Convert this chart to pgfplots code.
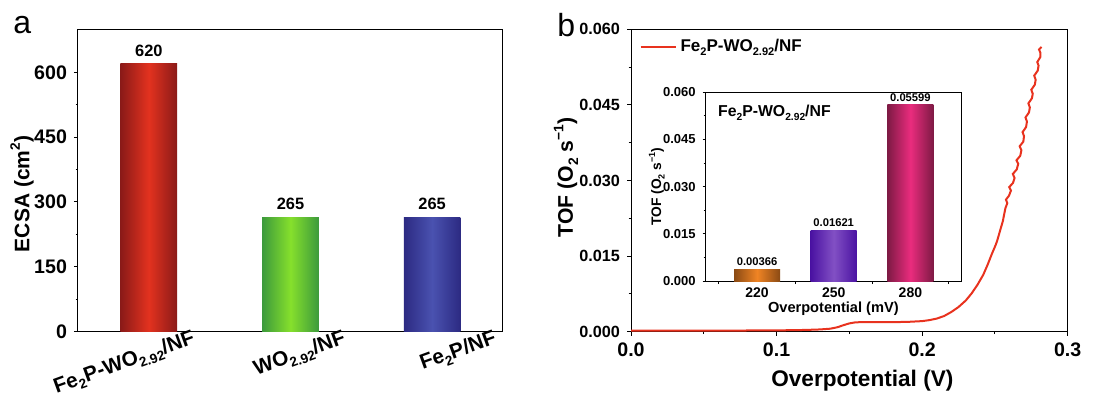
\documentclass[border=0pt]{standalone}
\usepackage{fontspec}
\setmainfont{Liberation Sans}
\usepackage{pgfplots}
\pgfplotsset{compat=1.18}
\definecolor{rdk}{HTML}{8A1A18}
\definecolor{rmd}{HTML}{E3321F}
\definecolor{gdk}{HTML}{3C9A3C}
\definecolor{gmd}{HTML}{86E02C}
\definecolor{bdk}{HTML}{2C2A82}
\definecolor{bmd}{HTML}{4A52B0}
\definecolor{odk}{HTML}{8A4A14}
\definecolor{omd}{HTML}{F08424}
\definecolor{pdk}{HTML}{4A12A2}
\definecolor{pmd}{HTML}{8250C4}
\definecolor{mdk}{HTML}{7E1A44}
\definecolor{mmd}{HTML}{EA2C7E}
\definecolor{curve}{HTML}{E8321E}
\newcommand{\fs}[1]{\fontsize{#1}{#1}\selectfont\bfseries}
\newcommand{\sbs}[1]{\raisebox{-0.45ex}{\scalebox{0.65}{#1}}}
\newcommand{\sps}[1]{\raisebox{0.85ex}{\scalebox{0.65}{#1}}}
\pgfplotsset{mystyle/.style={scale only axis, anchor=south west,
  axis line style={line width=0.5pt},
  tick align=outside, tick pos=left,
  major tick length=2pt, minor tick length=1.2pt,
  every tick/.style={line width=0.5pt, black},
  /pgf/number format/assume math mode=true}}
\begin{document}
\begin{tikzpicture}
\useasboundingbox (0,0) rectangle (552.5pt,196.5pt);
\node[anchor=base west, inner sep=0pt, font=\fontsize{16}{16}\selectfont] at (6.5pt,180pt) {a};
\node[anchor=base west, inner sep=0pt, font=\fontsize{16}{16}\selectfont] at (278.5pt,178.5pt) {b};

% ---- panel a ----
\begin{axis}[mystyle, at={(39pt,30.65pt)}, width=212.5pt, height=151.35pt,
  xmin=-0.5, xmax=2.5, ymin=0, ymax=700,
  ytick={0,150,300,450,600}, minor y tick num=1,
  xtick={0.317,1.38,2.444}, xtick style={draw=none},
  xticklabels={{Fe\sbs{2}P-WO\sbs{2.92}/NF},{WO\sbs{2.92}/NF},{Fe\sbs{2}P/NF}},
  xticklabel style={font=\fs{10.4}, rotate=20, anchor=north east, inner sep=0pt, yshift=4pt},
  yticklabel style={font=\fs{9.8}},
  ylabel={ECSA (cm\sps{2})},
  every axis y label/.style={at={(rel axis cs:0,0.455)}, xshift=-28pt, rotate=90, anchor=center, font=\fs{10.5}},
  point meta=explicit symbolic,
  nodes near coords style={font=\fs{8.2}, black},
]
\addplot[ybar, bar width=0.4, bar shift=0pt, draw=none, left color=rdk, right color=rdk, middle color=rmd, nodes near coords] coordinates {(0,620) [620]};
\addplot[ybar, bar width=0.4, bar shift=0pt, draw=none, left color=gdk, right color=gdk, middle color=gmd, nodes near coords] coordinates {(1,265) [265]};
\addplot[ybar, bar width=0.4, bar shift=0pt, draw=none, left color=bdk, right color=bdk, middle color=bmd, nodes near coords] coordinates {(2,265) [265]};
\end{axis}

% ---- panel b ----
\begin{axis}[mystyle, at={(315.5pt,30.65pt)}, width=218.35pt, height=151.2pt,
  xmin=0, xmax=0.3, ymin=0, ymax=0.06,
  xtick={0,0.1,0.2,0.3}, ytick={0,0.015,0.03,0.045,0.06},
  minor tick num=1, scaled ticks=false,
  xticklabel style={font=\fs{9.8}, /pgf/number format/.cd, fixed, fixed zerofill, precision=1},
  yticklabel style={font=\fs{8.1}, /pgf/number format/.cd, fixed, fixed zerofill, precision=3},
  xlabel={Overpotential (V)},
  every axis x label/.style={at={(rel axis cs:0.5,0)}, xshift=6.5pt, yshift=-27.5pt, anchor=base, font=\fs{11.3}},
  ylabel={TOF (O\sbs{2} s\sps{−1})},
  every axis y label/.style={at={(rel axis cs:0,0.51)}, xshift=-32.5pt, rotate=90, anchor=center, font=\fs{10.6}},
  legend style={draw=none, fill=none, at={(rel axis cs:0.005,0.942)}, anchor=west, font=\fs{8.5}},
  legend cell align=left,
  legend image code/.code={\draw[#1] (0pt,0pt) -- (17.5pt,0pt);},
]
\addplot[curve, line width=1pt] coordinates {
(0.000,0.00020) (0.020,0.00020) (0.050,0.00022) (0.080,0.00024) (0.100,0.00026)
(0.120,0.00035) (0.130,0.00045) (0.137,0.00060) (0.142,0.00090) (0.146,0.00130)
(0.150,0.00165) (0.154,0.00185) (0.160,0.00192) (0.170,0.00190) (0.180,0.00190)
(0.190,0.00195) (0.200,0.00210) (0.205,0.00230) (0.210,0.00260) (0.215,0.00310)
(0.220,0.00390) (0.225,0.00490) (0.230,0.00620) (0.234,0.00760) (0.238,0.00930)
(0.242,0.01130) (0.245,0.01330) (0.248,0.01550) (0.2505,0.01720) (0.2515,0.01800)
(0.2525,0.01900) (0.2540,0.02050) (0.2555,0.02200) (0.2565,0.02350) (0.2572,0.02450)
(0.2585,0.02550) (0.2576,0.02620) (0.2597,0.02700) (0.2610,0.02800) (0.2598,0.02870)
(0.2624,0.02950) (0.2635,0.03050) (0.2623,0.03130) (0.2650,0.03220) (0.2660,0.03330)
(0.2648,0.03400) (0.2674,0.03490) (0.2682,0.03600) (0.2670,0.03680) (0.2695,0.03770)
(0.2700,0.03880) (0.2690,0.03960) (0.2714,0.04060) (0.2720,0.04170) (0.2710,0.04250)
(0.2734,0.04350) (0.2740,0.04450) (0.2730,0.04530) (0.2754,0.04630) (0.2760,0.04720)
(0.2750,0.04800) (0.2774,0.04900) (0.2780,0.05000) (0.2770,0.05080) (0.2794,0.05180)
(0.2800,0.05280) (0.2791,0.05350) (0.2812,0.05450) (0.2813,0.05530) (0.2803,0.05600)
(0.2820,0.05650)};
\addlegendentry{Fe\sbs{2}P-WO\sbs{2.92}/NF}
\end{axis}

% ---- inset ----
\begin{axis}[mystyle, at={(352.85pt,56pt)}, width=127.65pt, height=94.35pt,
  xmin=-0.67, xmax=2.66, ymin=0, ymax=0.06,
  axis background/.style={fill=white},
  ytick={0,0.015,0.03,0.045,0.06}, minor y tick num=1, scaled ticks=false,
  xtick={-0.5,0.5,1.5,2.5}, xticklabels={},
  major tick length=1.5pt, minor tick length=1pt,
  extra x ticks={0,1,2}, extra x tick labels={220,250,280},
  extra x tick style={major tick length=0pt, xticklabel style={font=\fs{7}}},
  yticklabel style={font=\fs{6.5}, /pgf/number format/.cd, fixed, fixed zerofill, precision=3},
  xlabel={Overpotential (mV)},
  every axis x label/.style={at={(rel axis cs:0.5,0)}, yshift=-14pt, anchor=center, font=\fs{7.3}},
  ylabel={TOF (O\sbs{2} s\sps{−1})},
  every axis y label/.style={at={(rel axis cs:0,0.5)}, xshift=-24.5pt, rotate=90, anchor=center, font=\fs{6.9}},
  point meta=explicit symbolic,
  nodes near coords style={font=\fs{5.6}, black, inner sep=1.5pt},
]
\addplot[ybar, bar width=0.6, bar shift=0pt, draw=none, left color=odk, right color=odk, middle color=omd, nodes near coords] coordinates {(0,0.00366) [0.00366]};
\addplot[ybar, bar width=0.6, bar shift=0pt, draw=none, left color=pdk, right color=pdk, middle color=pmd, nodes near coords] coordinates {(1,0.01621) [0.01621]};
\addplot[ybar, bar width=0.6, bar shift=0pt, draw=none, left color=mdk, right color=mdk, middle color=mmd, nodes near coords] coordinates {(2,0.05599) [0.05599]};
\node[anchor=west, inner sep=0pt, font=\fs{7.9}] at (rel axis cs:0.047,0.89) {Fe\sbs{2}P-WO\sbs{2.92}/NF};
\end{axis}
\end{tikzpicture}
\end{document}
